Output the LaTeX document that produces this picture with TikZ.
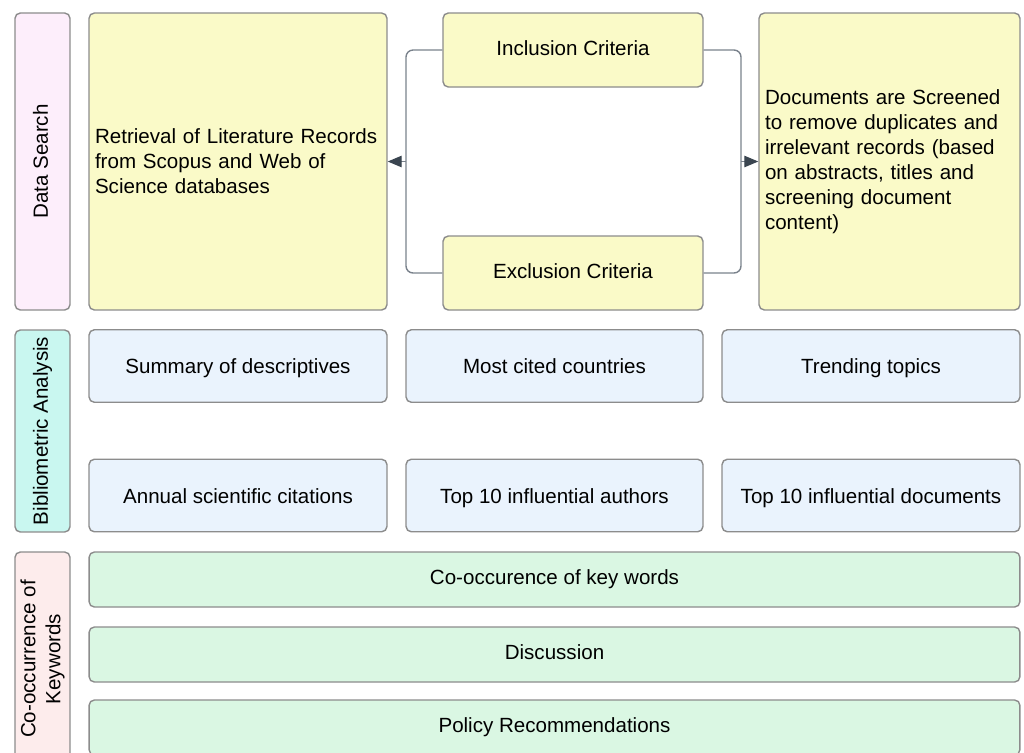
\documentclass[tikz,border=0pt]{standalone}
\usepackage{fontspec}
\setmainfont{Liberation Sans}
\usetikzlibrary{arrows.meta}

\definecolor{lanepink}{HTML}{FDEEFB}
\definecolor{lanecyan}{HTML}{C9F7F0}
\definecolor{lanerose}{HTML}{FDECEC}
\definecolor{boxyellow}{HTML}{FAFAC8}
\definecolor{boxblue}{HTML}{EAF3FD}
\definecolor{boxgreen}{HTML}{DAF7E3}
\definecolor{edgegray}{HTML}{8C8C8C}
\definecolor{linkgray}{HTML}{7A828C}
\definecolor{tipgray}{HTML}{3A4550}

\tikzset{
  card/.style={draw=edgegray, line width=0.8pt, rounded corners=3pt, inner sep=0pt,
    align=center, font=\fontsize{11.7}{14.2}\selectfont},
  oneline/.style={text height=8.5pt, text depth=2.5pt},
  lane/.style={card, rotate=90, minimum height=1.1cm},
  ybox/.style={card, fill=boxyellow},
  bbox/.style={card, text height=10pt, text depth=1pt, fill=boxblue, minimum height=1.45cm},
  gbox/.style={card, oneline, fill=boxgreen, minimum width=18.62cm, minimum height=1.1cm},
  link/.style={draw=linkgray, line width=0.8pt, rounded corners=4pt},
  tip/.style={draw=linkgray, line width=0.8pt,
    -{Triangle[length=8pt,width=6.5pt,color=tipgray]}}
}

\begin{document}
\begin{tikzpicture}[x=0.02cm, y=-0.02cm]
  \useasboundingbox (0,0) rectangle (1024,752);

  % side lanes
  \node[lane, oneline, fill=lanepink, minimum width=5.94cm] (dsearch) at (42.5,161.5) {Data Search};
  \node[lane, oneline, fill=lanecyan, minimum width=4.04cm] (biblio) at (42.5,431) {Bibliometric Analysis};
  \node[lane, fill=lanerose, minimum width=4.28cm] (cooc) at (42.5,659) {Co-occurrence of\\Keywords};

  % data search row
  \node[ybox, minimum width=5.96cm, minimum height=5.94cm, text width=5.72cm, align=left]
    (retr) at (238,161.5) {Retrieval of Literature Records\\from Scopus and Web of\\Science databases};
  \node[ybox, oneline, minimum width=5.2cm, minimum height=1.48cm] (incl) at (573,50) {Inclusion Criteria};
  \node[ybox, oneline, minimum width=5.2cm, minimum height=1.48cm] (excl) at (573,273) {Exclusion Criteria};
  \node[ybox, minimum width=5.22cm, minimum height=5.94cm, text width=4.98cm, align=left]
    (screen) at (889.5,161.5) {Documents are Screened\\to remove duplicates and\\irrelevant records (based\\on abstracts, titles and\\screening document\\content)};

  \coordinate (lj) at (406,161.5);
  \coordinate (rj) at (741,161.5);
  \draw[link] (incl.west) -| (lj) |- (excl.west);
  \draw[link] (incl.east) -| (rj) |- (excl.east);
  \draw[tip] (lj) -- (retr.east);
  \draw[tip] (rj) -- (screen.west);

  % bibliometric row
  \node[bbox, minimum width=5.96cm] (summ) at (238,366) {Summary of descriptives};
  \node[bbox, minimum width=5.94cm] (cited) at (554.5,366) {Most cited countries};
  \node[bbox, minimum width=5.96cm] (trend) at (871,366) {Trending topics};
  \node[bbox, minimum width=5.96cm] (annual) at (238,495.5) {Annual scientific citations};
  \node[bbox, minimum width=5.94cm] (authors) at (554.5,495.5) {Top 10 influential authors};
  \node[bbox, minimum width=5.96cm] (docs) at (871,495.5) {Top 10 influential documents};

  % keyword row
  \node[gbox] (kwords) at (554.5,579.5) {Co-occurence of key words};
  \node[gbox] (disc) at (554.5,654.5) {Discussion};
  \node[gbox] (policy) at (554.5,727.5) {Policy Recommendations};
\end{tikzpicture}
\end{document}
